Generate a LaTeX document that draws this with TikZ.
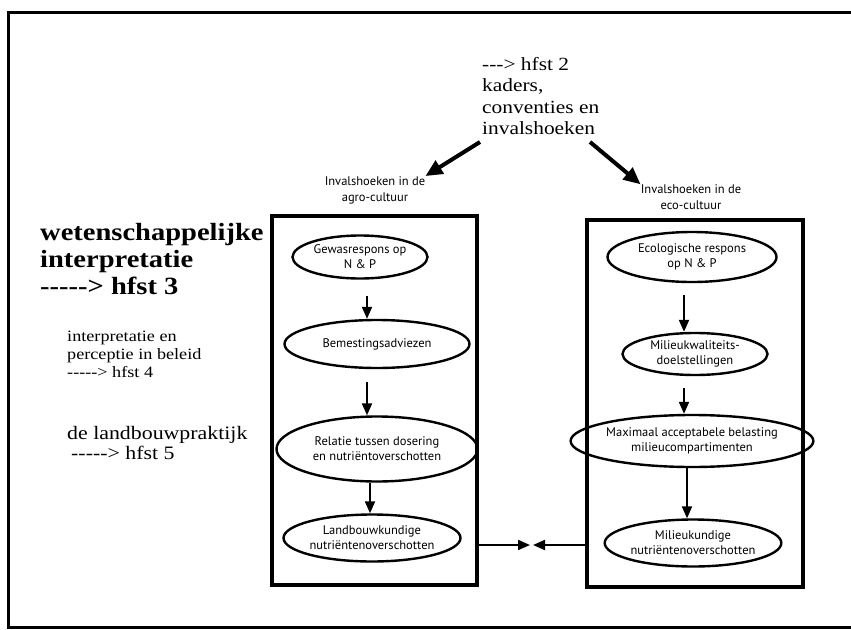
\documentclass[tikz,border=0pt]{standalone}
\usepackage{fontspec}
\setmainfont{Liberation Serif}[FakeStretch=1.15]
\newfontfamily\labelfont{PT Sans}
\usetikzlibrary{arrows.meta,shapes.geometric}

\tikzset{
  frame/.style={line width=3pt},
  column/.style={draw, line width=3.5pt, rectangle, inner sep=0pt},
  stage/.style={draw, line width=2.4pt, ellipse, inner sep=0pt, align=center,
    font=\labelfont\fontsize{12.5}{15}\selectfont},
  flow/.style={line width=2pt, -{Triangle[length=12pt,width=10pt]}},
  bigflow/.style={line width=4pt, -{Triangle[length=17pt,width=15pt]}},
  heading/.style={inner sep=0pt, align=center, font=\labelfont\fontsize{12.5}{16}\selectfont},
  note/.style={inner sep=0pt, align=left},
}

\begin{document}
\begin{tikzpicture}[x=1pt,y=-1pt]
\useasboundingbox (0,0) rectangle (851,629);
\fill[white] (0,0) rectangle (851,629);

% outer frame, open on the right
\draw[frame] (855,12) -- (8,12) -- (8,627) -- (855,627);

% top note
\node[note, anchor=north west, font=\fontsize{18.6}{21.5}\selectfont] (frames) at (482,57)
  {-{}-{}-> hfst 2\\kaders,\\conventies en\\invalshoeken};

% left notes
\node[note, anchor=north west, font=\bfseries\fontsize{24.8}{27}\selectfont] (sci) at (40,223)
  {wetenschappelijke\\interpretatie\\-{}-{}-{}-{}-> hfst 3};
\node[note, anchor=north west, font=\fontsize{15.8}{18}\selectfont] (policy) at (67,331)
  {interpretatie en\\perceptie in beleid\\-{}-{}-{}-{}-> hfst 4};
\node[note, anchor=north west, font=\fontsize{19}{20}\selectfont] (practice) at (67,426)
  {de landbouwpraktijk\\\hspace{4pt}-{}-{}-{}-{}-> hfst 5};

% column headings
\node[heading] (agrolbl) at (375,190) {Invalshoeken in de\\agro-cultuur};
\node[heading] (ecolbl) at (691,197) {Invalshoeken in de\\eco-cultuur};

% columns
\node[column, minimum width=205pt, minimum height=369pt] (agro) at (374.5,400.5) {};
\node[column, minimum width=216pt, minimum height=367pt] (eco) at (695,403.5) {};

% agro-cultuur chain
\node[stage, minimum width=135pt, minimum height=43pt] (g1) at (360,257) {Gewasrespons op\\N \& P};
\node[stage, minimum width=185pt, minimum height=48pt] (g2) at (377,344) {Bemestingsadviezen};
\node[stage, minimum width=201pt, minimum height=65pt] (g3) at (377,449) {Relatie tussen dosering\\en nutriëntoverschotten};
\node[stage, minimum width=177pt, minimum height=47pt] (g4) at (372,538) {Landbouwkundige\\nutriëntenoverschotten};

% eco-cultuur chain
\node[stage, minimum width=169pt, minimum height=50pt] (e1) at (692,257) {Ecologische respons\\op N \& P};
\node[stage, minimum width=145pt, minimum height=42pt] (e2) at (695,354) {Milieukwaliteits-\\doelstellingen};
\node[stage, minimum width=201pt, minimum height=52pt] (e3) at (692,441) {Maximaal acceptabele belasting\\milieucompartimenten};
\node[stage, minimum width=167pt, minimum height=47pt] (e4) at (693,543) {Milieukundige\\nutriëntenoverschotten};

% vertical flows
\coordinate (ga) at (367,0);
\coordinate (gb) at (370,0);
\coordinate (ea) at (684,0);
\coordinate (eb) at (687,0);
\draw[flow, shorten <=16pt] (g1.south -| ga) -- (g2.north -| ga);
\draw[flow, shorten <=13pt] (g2.south -| ga) -- (g3.north -| ga);
\draw[flow] (g3.south -| gb) -- (g4.north -| gb);
\draw[flow, shorten <=12pt] (e1.south -| ea) -- (e2.north -| ea);
\draw[flow, shorten <=12pt] (e2.south -| ea) -- (e3.north -| ea);
\draw[flow] (e3.south -| eb) -- (e4.north -| eb);

% meeting arrows between the columns
\coordinate (meetL) at (530,545);
\coordinate (meetR) at (533,545);
\draw[flow] (agro.east |- meetL) -- (meetL);
\draw[flow] (eco.west |- meetR) -- (meetR);

% arrows from the top note to both columns
\coordinate (tailL) at (480,142);
\coordinate (tailR) at (590,142);
\draw[bigflow] (tailL) -- (agrolbl.north east);
\draw[bigflow] (tailR) -- (ecolbl.north west);
\end{tikzpicture}
\end{document}
